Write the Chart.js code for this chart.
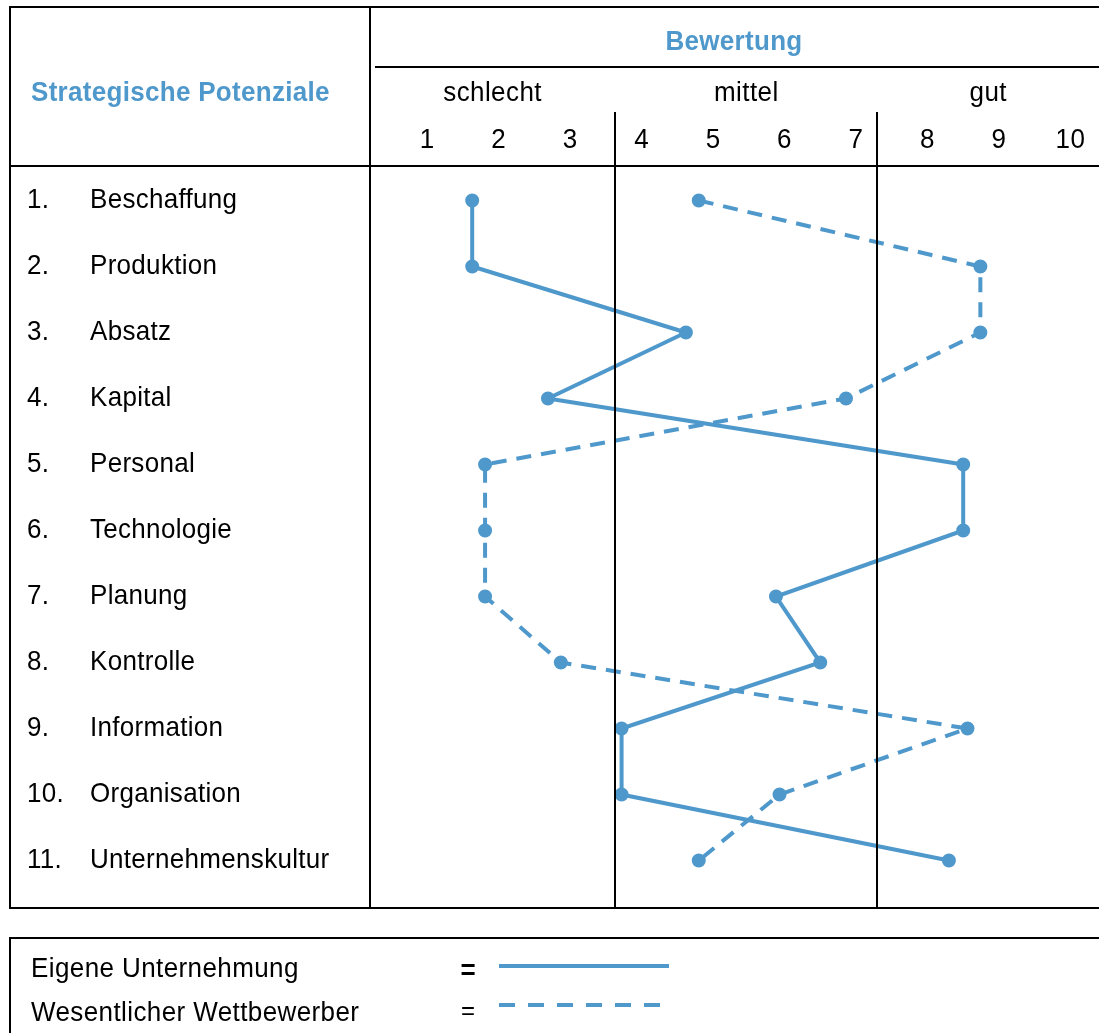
<!DOCTYPE html>
<html lang="de">
<head>
<meta charset="utf-8">
<title>Stärken-Schwächen-Profil</title>
<script src="https://cdn.jsdelivr.net/npm/chart.js@4.4.1/dist/chart.umd.min.js"></script>
<style>
  html, body { margin: 0; padding: 0; background: #ffffff; }
  canvas { display: block; }
</style>
</head>
<body>
<canvas id="profil" width="1099" height="1033"></canvas>
<script>
// Strategische Potenziale (Zeilen des Profils)
const potenziale = [
  'Beschaffung', 'Produktion', 'Absatz', 'Kapital', 'Personal', 'Technologie',
  'Planung', 'Kontrolle', 'Information', 'Organisation', 'Unternehmenskultur'
];

// Bewertungen auf der Skala 1 (schlecht) bis 10 (gut)
const eigeneUnternehmung = [1.63, 1.63, 4.62, 2.69, 8.50, 8.50, 5.88, 6.50, 3.72, 3.72, 8.30];
const wettbewerber       = [4.80, 8.74, 8.74, 6.86, 1.81, 1.81, 1.81, 2.87, 8.56, 5.93, 4.80];

// Skalenbeschriftung
const bewertungTicks = ['1', '2', '3', '4', '5', '6', '7', '8', '9', '10'];
const gruppen = ['schlecht', 'mittel', 'gut'];
const gruppenGrenzen = [3.63, 7.30];

const titelSpalte = 'Strategische Potenziale';
const titelBewertung = 'Bewertung';
const legendeEigene = 'Eigene Unternehmung';
const legendeWettbewerber = 'Wesentlicher Wettbewerber';

const BLAU = '#4f98cb';
const FONT = '"Liberation Sans", Arial, sans-serif';

// Tabellenrahmen
const T = { left: 10, top: 7, split: 370, headBottom: 166, bottom: 908, right: 1099 };

// Text leicht hochgestellt (schmale, hohe Schrift)
function text(ctx, s, x, y, sy = 1.08) {
  ctx.save();
  ctx.translate(x, y);
  ctx.scale(1, sy);
  ctx.fillText(s, 0, 0);
  ctx.restore();
}

const tabelle = {
  id: 'tabelle',
  beforeDraw(chart) {
    const ctx = chart.ctx;
    const x = chart.scales.x;
    ctx.save();
    ctx.fillStyle = '#ffffff';
    ctx.fillRect(0, 0, chart.width, chart.height);

    // Rahmen und Trennlinien der Tabelle
    ctx.strokeStyle = '#000000';
    ctx.lineWidth = 2;
    ctx.beginPath();
    ctx.moveTo(T.right + 2, T.top); ctx.lineTo(T.left, T.top); ctx.lineTo(T.left, T.bottom); ctx.lineTo(T.right + 2, T.bottom);
    ctx.moveTo(T.split, T.top); ctx.lineTo(T.split, T.bottom);
    ctx.moveTo(T.left, T.headBottom); ctx.lineTo(T.right + 2, T.headBottom);
    ctx.moveTo(375, 67); ctx.lineTo(T.right + 2, 67);
    ctx.stroke();

    // Legendenrahmen
    ctx.beginPath();
    ctx.moveTo(T.right + 2, 938); ctx.lineTo(T.left, 938); ctx.lineTo(T.left, 1040);
    ctx.stroke();

    // Kopfzeilen
    ctx.textBaseline = 'middle';
    ctx.fillStyle = BLAU;
    ctx.font = 'bold 26px ' + FONT;
    ctx.letterSpacing = '0.3px';
    ctx.textAlign = 'left';
    text(ctx, titelSpalte, 31, 93);
    ctx.textAlign = 'center';
    text(ctx, titelBewertung, 734, 42);

    ctx.fillStyle = '#000000';
    ctx.font = '26px ' + FONT;
    ctx.letterSpacing = '0.4px';
    const grenzen = [x.left, ...gruppenGrenzen.map(v => x.getPixelForValue(v)), x.right];
    gruppen.forEach((g, i) => {
      text(ctx, g, (grenzen[i] + grenzen[i + 1]) / 2, 93);
    });
    bewertungTicks.forEach(t => {
      text(ctx, t, x.getPixelForValue(Number(t)), 140);
    });

    // Zeilenbeschriftungen
    const y = chart.scales.y;
    ctx.textAlign = 'left';
    ctx.letterSpacing = '0.3px';
    potenziale.forEach((p, i) => {
      const py = y.getPixelForValue(i + 1);
      text(ctx, (i + 1) + '.', 27, py);
      text(ctx, p, 90, py);
    });

    // Legende
    ctx.letterSpacing = '0.4px';
    text(ctx, legendeEigene, 31, 969);
    text(ctx, legendeWettbewerber, 31, 1013);
    ctx.letterSpacing = '0px';
    ctx.textAlign = 'center';
    ctx.font = 'bold 26px ' + FONT;
    text(ctx, '=', 468, 971);
    ctx.font = '24px ' + FONT;
    text(ctx, '=', 468, 1012);

    ctx.strokeStyle = BLAU;
    ctx.lineWidth = 4;
    ctx.beginPath();
    ctx.moveTo(499, 966); ctx.lineTo(669, 966);
    ctx.stroke();
    ctx.setLineDash([16, 13]);
    ctx.beginPath();
    ctx.moveTo(499, 1005); ctx.lineTo(664, 1005);
    ctx.stroke();
    ctx.restore();
  },
  afterDatasetsDraw(chart) {
    // senkrechte Trennlinien zwischen schlecht / mittel / gut
    const ctx = chart.ctx;
    const x = chart.scales.x;
    ctx.save();
    ctx.strokeStyle = '#000000';
    ctx.lineWidth = 2;
    ctx.beginPath();
    gruppenGrenzen.forEach(v => {
      const px = Math.round(x.getPixelForValue(v));
      ctx.moveTo(px, 112); ctx.lineTo(px, T.bottom);
    });
    ctx.stroke();
    ctx.restore();
  }
};

const punkte = werte => werte.map((v, i) => ({ x: v, y: i + 1 }));

new Chart(document.getElementById('profil'), {
  type: 'scatter',
  data: {
    datasets: [
      {
        label: legendeEigene,
        data: punkte(eigeneUnternehmung),
        showLine: true,
        borderColor: BLAU,
        backgroundColor: BLAU,
        borderWidth: 4,
        pointRadius: 5,
        pointHoverRadius: 5,
        tension: 0
      },
      {
        label: legendeWettbewerber,
        data: punkte(wettbewerber),
        showLine: true,
        borderColor: BLAU,
        backgroundColor: BLAU,
        borderWidth: 4,
        borderDash: [15, 10],
        pointRadius: 5,
        pointHoverRadius: 5,
        tension: 0
      }
    ]
  },
  options: {
    responsive: false,
    animation: false,
    events: [],
    layout: {
      autoPadding: false,
      padding: { left: T.split, top: T.headBottom, right: 0, bottom: 1033 - T.bottom }
    },
    plugins: { legend: { display: false }, tooltip: { enabled: false } },
    scales: {
      x: { type: 'linear', min: 0.2, max: 10.4, display: false },
      y: { type: 'linear', min: 0.478, max: 11.719, reverse: true, display: false }
    }
  },
  plugins: [tabelle]
});
</script>
</body>
</html>
